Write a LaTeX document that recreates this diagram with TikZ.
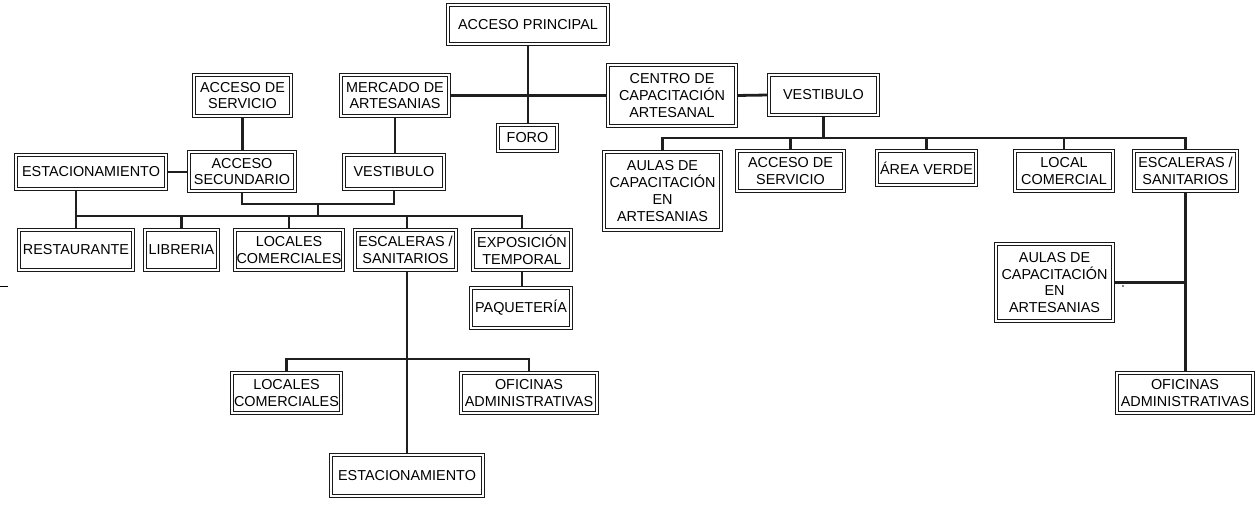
\documentclass[tikz,border=0pt]{standalone}
\usepackage{fontspec}
\setmainfont{Liberation Sans}
\usetikzlibrary{backgrounds}
\newcommand\bx[6]{\node[box, minimum width={#4-#2-3.8}, minimum height={#5-#3-3.8}] (#1) at ({(#2+#4)/2},{(#3+#5)/2}) {#6};}
\begin{document}
\begin{tikzpicture}[x=1pt,y=-1pt,
  box/.style={draw=black!90, fill=white, line width=0.8pt, double=white, double distance=2pt,
     inner sep=0pt, align=center, font=\fontsize{14.4}{16.8}\selectfont},
  conn/.style={line width=2.8pt, draw=black!88}]
\useasboundingbox (0,0) rectangle (1257,508);
% boxes
\bx{ap}{446}{3}{610}{46}{ACCESO PRINCIPAL}
\bx{asl}{192}{73}{293}{118}{ACCESO DE\\SERVICIO}
\bx{merc}{339}{73}{451}{118}{MERCADO DE\\ARTESANIAS}
\bx{foro}{496}{123}{559}{153}{FORO}
\bx{cent}{606}{63}{738}{128}{CENTRO DE\\CAPACITACIÓN\\ARTESANAL}
\bx{vestr}{767}{73}{880}{117}{VESTIBULO}
\bx{estl}{14}{153}{168}{191}{ESTACIONAMIENTO}
\bx{accsec}{187}{150}{297}{193}{ACCESO\\SECUNDARIO}
\bx{vestl}{342}{153}{446}{191}{VESTIBULO}
\bx{rest}{17}{228}{135}{272}{RESTAURANTE}
\bx{lib}{143}{228}{220}{272}{LIBRERIA}
\bx{loc1}{233}{228}{345}{272}{LOCALES\\COMERCIALES}
\bx{esc1}{353}{228}{458}{272}{ESCALERAS /\\SANITARIOS}
\bx{expo}{471}{228}{573}{272}{EXPOSICIÓN\\TEMPORAL}
\bx{paq}{469}{286}{573}{330}{PAQUETERÍA}
\bx{loc2}{230}{371}{343}{415}{LOCALES\\COMERCIALES}
\bx{ofi1}{459}{371}{599}{415}{OFICINAS\\ADMINISTRATIVAS}
\bx{est2}{329}{453}{485}{498}{ESTACIONAMIENTO}
\bx{aul1}{602}{150}{723}{232}{AULAS DE\\CAPACITACIÓN\\EN\\ARTESANIAS}
\bx{asr}{735}{149}{846}{193}{ACCESO DE\\SERVICIO}
\bx{av}{875}{149}{978}{187}{ÁREA VERDE}
\bx{lc}{1013}{149}{1115}{193}{LOCAL\\COMERCIAL}
\bx{esc2}{1132}{149}{1239}{193}{ESCALERAS /\\SANITARIOS}
\bx{aul2}{994}{242}{1115}{323}{AULAS DE\\CAPACITACIÓN\\EN\\ARTESANIAS}
\bx{ofi2}{1115}{371}{1255}{415}{OFICINAS\\ADMINISTRATIVAS}
% junction coordinates
\coordinate (jL) at (318,204);
\coordinate (busL) at (318,216);
\coordinate (busE) at (407,359);
\coordinate (busR) at (823.5,138);
\begin{scope}[on background layer]
\draw[conn] (ap.south) -- (ap.south |- foro.north);
\draw[conn] (merc.east) -- (cent.west);
\draw[conn] (cent.east) -- (vestr.west);
\draw[conn] (merc.south) -- (merc.south |- vestl.north);
\draw[conn] (asl.south) -- (asl.south |- accsec.north);
\draw[conn] (estl.east) -- (estl.east -| accsec.west);
\draw[conn] (accsec.south) |- (jL) -| (vestl.south);
\draw[conn] (jL) -- (busL);
\draw[conn] (rest.north |- estl.south) -- (rest.north |- busL) -- (expo.north |- busL) -- (expo.north);
\draw[conn] (rest.north) -- (rest.north |- busL);
\draw[conn] (lib.north) -- (lib.north |- busL);
\draw[conn] (loc1.north) -- (loc1.north |- busL);
\draw[conn] (esc1.north -| busE) -- (busE |- busL);
\draw[conn] (expo.south) -- (expo.south |- paq.north);
\draw[conn] (busE |- esc1.south) -- (busE |- est2.north);
\draw[conn] (loc2.north) |- (busE) -| (ofi1.north);
\draw[conn] (vestr.south) -- (busR);
\draw[conn] (aul1.north) |- (busR) -| (esc2.north);
\draw[conn] (asr.north) -- (asr.north |- busR);
\draw[conn] (av.north) -- (av.north |- busR);
\draw[conn] (lc.north) -- (lc.north |- busR);
\draw[conn] (esc2.south) -- (esc2.south |- ofi2.north);
\draw[conn] (aul2.east) -- (aul2.east -| esc2.south);
\end{scope}
% stray marks
\draw[line width=1pt] (0,286) -- (8,286);
\fill (1123,286) circle (0.8);
\end{tikzpicture}
\end{document}
